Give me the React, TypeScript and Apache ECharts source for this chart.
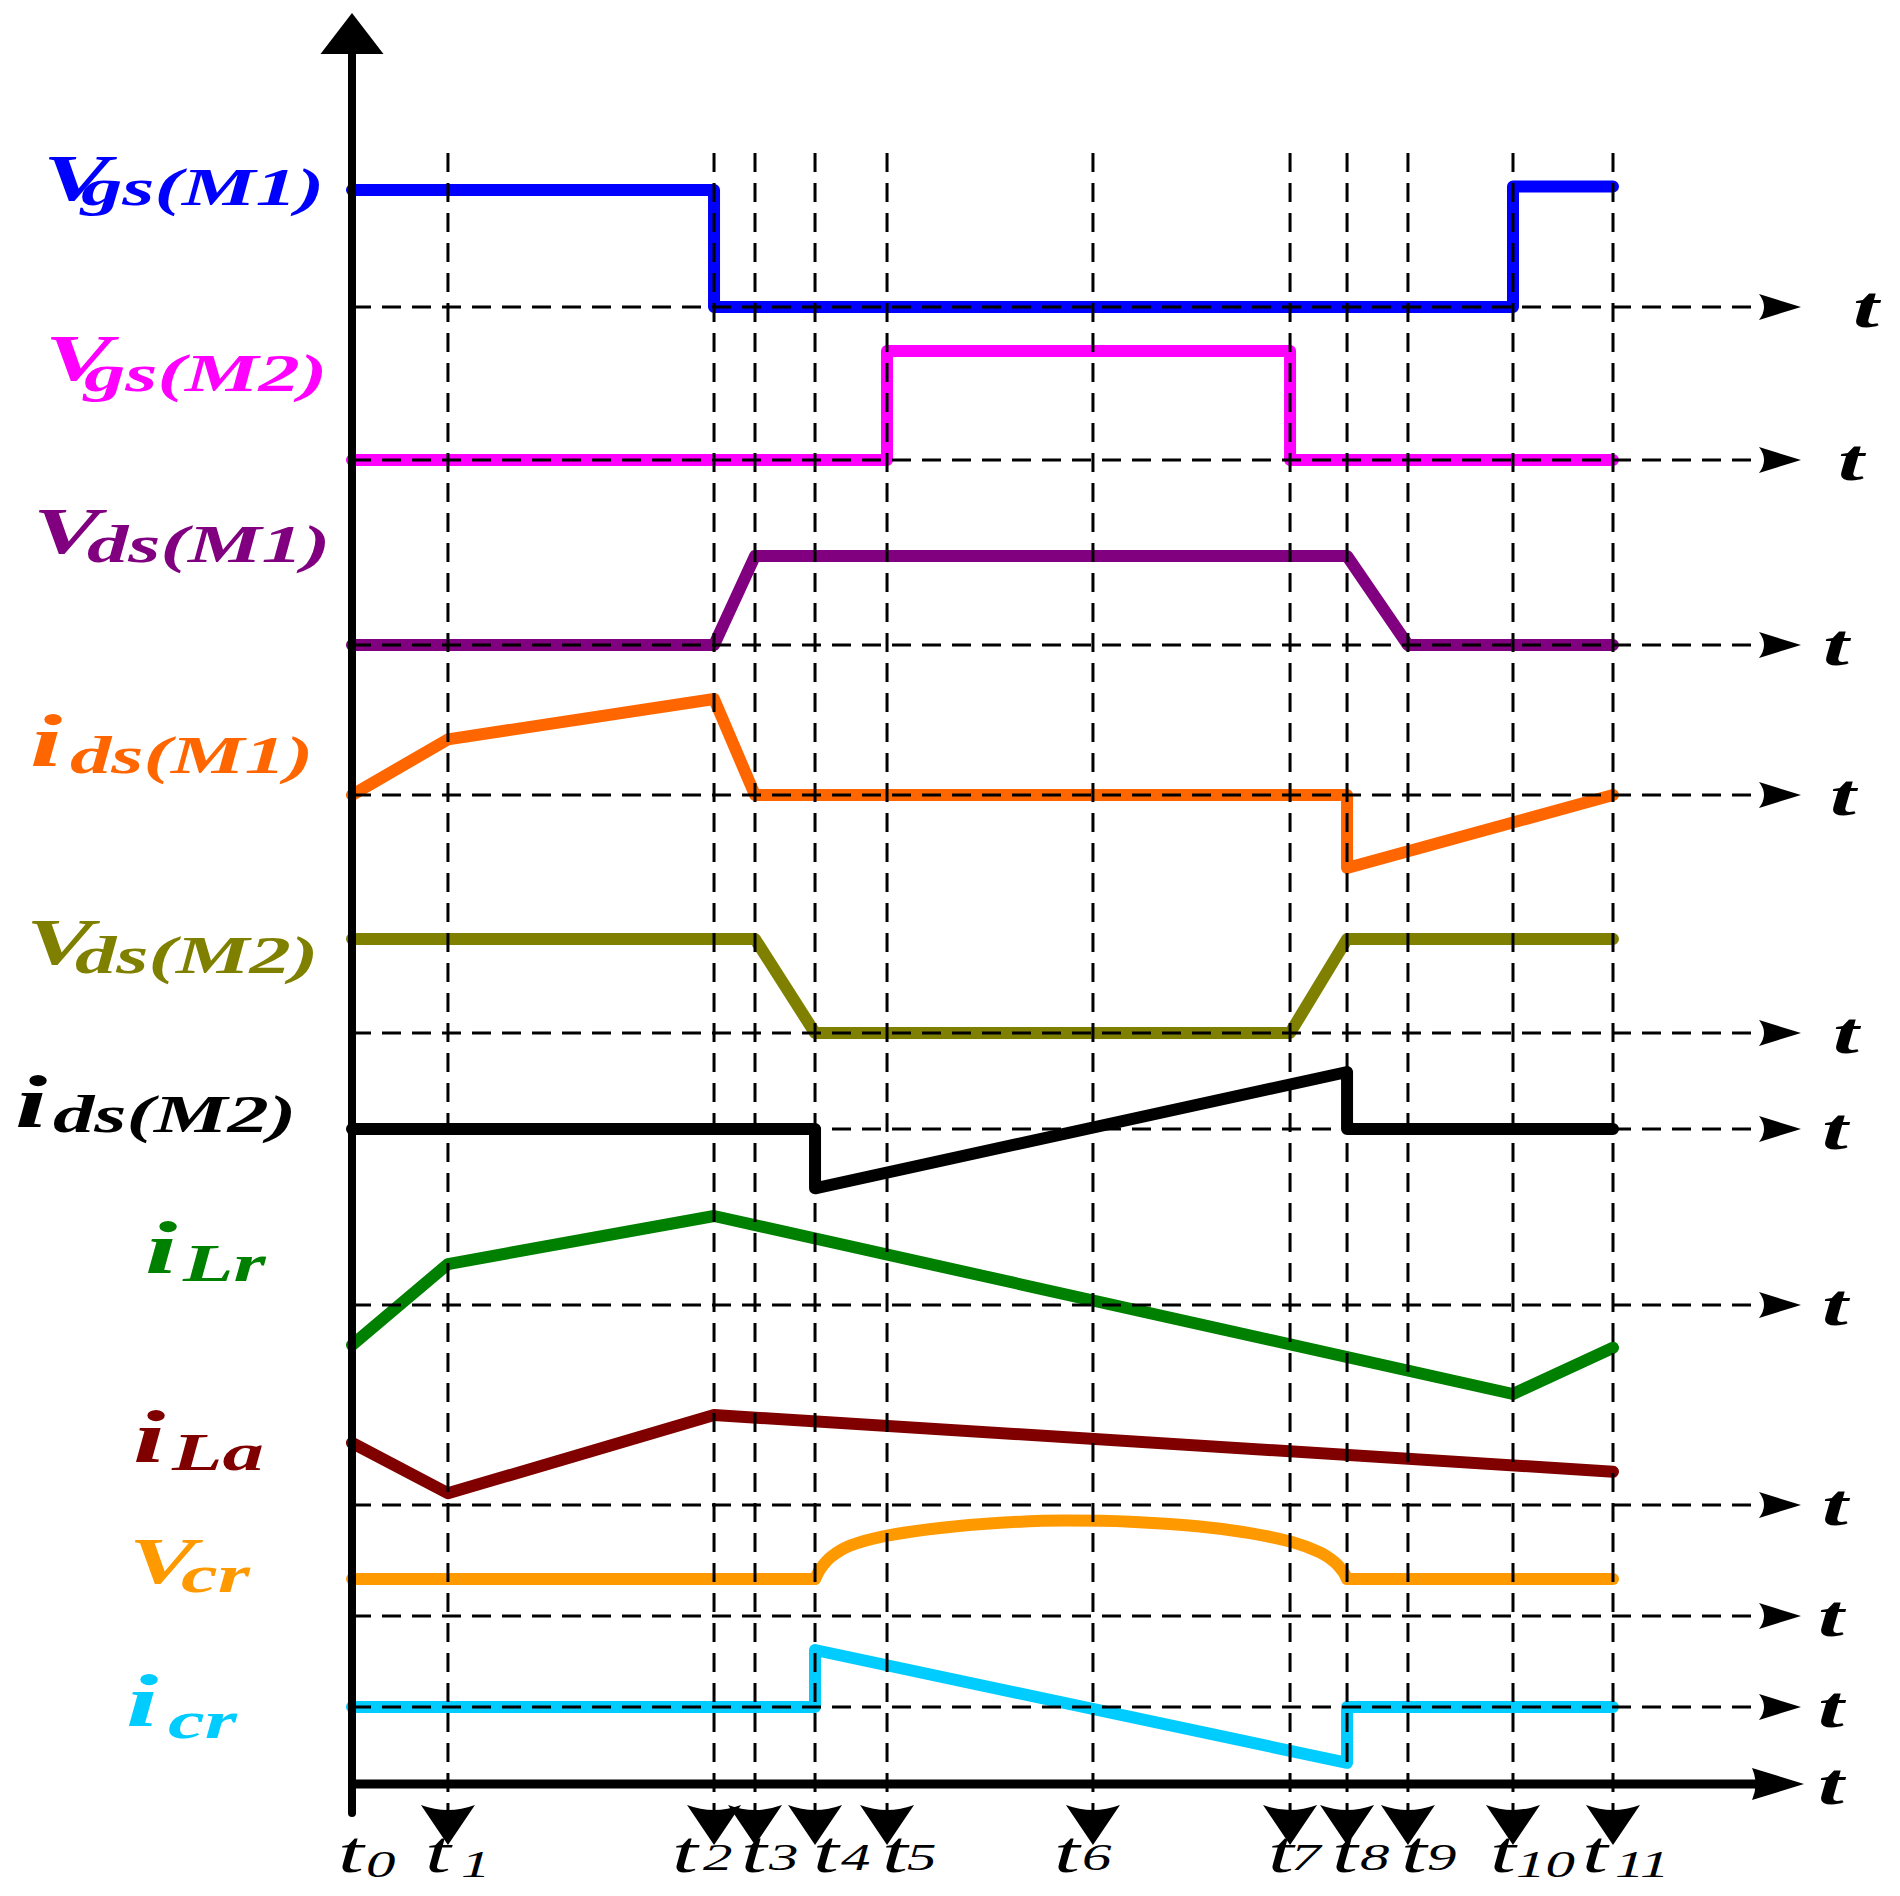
import React, { useEffect, useRef } from "react";
import * as echarts from "echarts";

// ---------- DATA ----------
// switching instants t0..t11 (arbitrary time units, t11 = 100)
const T = [0, 7.61, 28.71, 31.96, 36.72, 42.43, 58.76, 74.39, 78.91, 83.74, 92.07, 100];
const tickSubs = ["0", "1", "2", "3", "4", "5", "6", "7", "8", "9", "10", "11"];

// waveforms: [time, normalized value relative to the waveform's own zero line]
const vgsM1 = [[T[0], 1], [T[2], 1], [T[2], 0], [T[10], 0], [T[10], 1.03], [T[11], 1.03]];
const vgsM2 = [[T[0], 0], [T[5], 0], [T[5], 1], [T[7], 1], [T[7], 0], [T[11], 0]];
const vdsM1 = [[T[0], 0], [T[2], 0], [T[3], 1], [T[8], 1], [T[9], 0], [T[11], 0]];
const idsM1 = [[T[0], 0], [T[1], 0.58], [T[2], 1], [T[3], 0], [T[8], 0], [T[8], -0.76], [T[11], 0]];
const vdsM2 = [[T[0], 1], [T[3], 1], [T[4], 0], [T[7], 0], [T[8], 1], [T[11], 1]];
const idsM2 = [[T[0], 0], [T[4], 0], [T[4], -1.04], [T[8], 1], [T[8], 0], [T[11], 0]];
const iLr = [[T[0], -0.45], [T[1], 0.46], [T[2], 1], [T[10], -1], [T[11], -0.48]];
const iLa = [[T[0], 0.69], [T[1], 0.13], [T[2], 1], [T[11], 0.37]];
const vcrFlatA = [[T[0], 1], [T[4], 1]];
const vcrArcT = [T[4], 37.2, 38.0, 39.5, T[5], 46.63, 51.4, 56.6, 61.7, 67.25, 71.21, 74.54, 76.76, 77.95, 78.6, T[8]];
const vcrArcV = [1, 1.3, 1.6, 1.9, 2.17, 2.38, 2.52, 2.58, 2.55, 2.42, 2.24, 2.0, 1.72, 1.45, 1.2, 1];
const vcrFlatB = [[T[8], 1], [T[11], 1]];
const icr = [[T[0], 0], [T[4], 0], [T[4], 1], [T[8], -0.98], [T[8], 0], [T[11], 0]];

// waveform names: main symbol + subscript
const labelMain = ["V", "V", "V", "i", "V", "i", "i", "i", "V", "i"];
const labelSub = ["gs(M1)", "gs(M2)", "ds(M1)", "ds(M1)", "ds(M2)", "ds(M2)", "Lr", "La", "cr", "cr"];

// ---------- LAYOUT / STYLE ----------
const W = 1900;
const H = 1896;
const X_MIN = -27.914;
const X_MAX = 122.76;
const FONT = "'Liberation Serif', 'Times New Roman', serif";
const STRETCH = 1.55;
const SUB_STRETCH = 1.59;
const LINE_W = 12;

const rows = [
  { series: [vgsM1], base: 307, unit: 117, color: "#0000FF", tx: 1853, lab: [43, 200, 81, 205] },
  { series: [vgsM2], base: 460, unit: 109, color: "#FF00FF", tx: 1838, lab: [45, 380, 84, 391] },
  { series: [vdsM1], base: 645, unit: 89, color: "#800080", tx: 1823, lab: [33, 553, 87, 562] },
  { series: [idsM1], base: 795, unit: 96, color: "#FF6600", tx: 1830, lab: [30, 766, 70, 773] },
  { series: [vdsM2], base: 1033, unit: 94, color: "#808000", tx: 1833, lab: [26, 964, 75, 973] },
  { series: [idsM2], base: 1129, unit: 57, color: "#000000", tx: 1822, lab: [15, 1127, 53, 1132] },
  { series: [iLr], base: 1305, unit: 89, color: "#008000", tx: 1822, lab: [145, 1273, 183, 1281] },
  { series: [iLa], base: 1505, unit: 90, color: "#800000", tx: 1822, lab: [133, 1462, 172, 1470] },
  { series: [vcrFlatA, vcrFlatB], base: 1616, unit: 37, color: "#FF9900", tx: 1818, lab: [129, 1583, 181, 1592] },
  { series: [icr], base: 1707, unit: 57, color: "#00CCFF", tx: 1818, lab: [126, 1726, 168, 1738] },
];

const AXIS_Y = 1784;
const AXIS_T_X = 1818;
const DASH_END_T = 111.66;
const ROW_ARROW_T = 114.91;
const AXIS_ARROW_T = 115.15;
const VLINE_TOP = 153;
const VLINE_BOTTOM = 1830;
const DOWN_ARROW_TIP = 1845;
const tickLabelDx = [-14, -23, -42, -14, -2, -5, -39, -22, -15, -7, -23, -31];
const tickDigitGap = [28, 36, 31, 28, 28, 25, 28, 23, 28, 26, 26, 33];

const ARROW_RIGHT = "path://M0,0 L42,13 L0,26 Q10,13 0,0 Z";
const ARROW_AXIS = "path://M0,0 L52,16 L0,32 Q7,16 0,0 Z";
const ARROW_DOWN = "path://M0,0 Q27,10 54,0 L27,40 Z";
const ARROW_UP = "path://M31.5,0 L63,41 L0,41 Z";

const dashed = { color: "#000", width: 3, type: [19, 11] as number[] };
const black = { color: "#000", opacity: 1 };

function buildOption() {
  const series: any[] = [];
  // waveforms
  rows.forEach((r) => {
    r.series.forEach((d) => {
      series.push({
        type: "line",
        data: d.map(([t, v]) => [t, r.base - v * r.unit]),
        symbol: "none",
        silent: true,
        z: 2,
        lineStyle: { color: r.color, width: LINE_W, cap: "round", join: "round" },
      });
    });
  });
  const vcrRow = rows[8];
  series.push({
    type: "line",
    data: vcrArcT.map((t, i) => [t, vcrRow.base - vcrArcV[i] * vcrRow.unit]),
    symbol: "none",
    smooth: 0.3,
    silent: true,
    z: 2,
    lineStyle: { color: vcrRow.color, width: LINE_W, cap: "round", join: "round" },
  });
  // dashed zero lines with arrow heads
  rows.forEach((r) => {
    series.push({
      type: "line",
      data: [[0, r.base], [DASH_END_T, r.base]],
      symbol: "none",
      silent: true,
      z: 5,
      lineStyle: dashed,
    });
  });
  series.push({
    type: "scatter",
    data: rows.map((r) => [ROW_ARROW_T, r.base]),
    symbol: ARROW_RIGHT,
    symbolSize: [42, 26],
    symbolOffset: [-21, 0],
    silent: true,
    z: 6,
    itemStyle: black,
  });
  // vertical dashed time markers with arrow heads
  T.slice(1).forEach((t) => {
    series.push({
      type: "line",
      data: [[t, VLINE_TOP], [t, VLINE_BOTTOM]],
      symbol: "none",
      silent: true,
      z: 5,
      lineStyle: dashed,
    });
  });
  series.push({
    type: "scatter",
    data: T.slice(1).map((t) => [t, DOWN_ARROW_TIP]),
    symbol: ARROW_DOWN,
    symbolSize: [54, 40],
    symbolOffset: [0, -20],
    silent: true,
    z: 6,
    itemStyle: black,
  });
  // main axes
  series.push({
    type: "line",
    data: [[0, 45], [0, 1813]],
    symbol: "none",
    silent: true,
    z: 7,
    lineStyle: { color: "#000", width: 8, cap: "round" },
  });
  series.push({
    type: "line",
    data: [[-0.3, AXIS_Y], [111.4, AXIS_Y]],
    symbol: "none",
    silent: true,
    z: 7,
    lineStyle: { color: "#000", width: 9 },
  });
  series.push({
    type: "scatter",
    data: [[0, 13]],
    symbol: ARROW_UP,
    symbolSize: [63, 41],
    symbolOffset: [0, 20.5],
    silent: true,
    z: 7,
    itemStyle: black,
  });
  series.push({
    type: "scatter",
    data: [[AXIS_ARROW_T, AXIS_Y]],
    symbol: ARROW_AXIS,
    symbolSize: [52, 32],
    symbolOffset: [-26, 0],
    silent: true,
    z: 7,
    itemStyle: black,
  });

  return {
    animation: false,
    backgroundColor: "#ffffff",
    grid: { left: 0, top: 0, width: W, height: H, containLabel: false },
    xAxis: { type: "value", min: X_MIN, max: X_MAX, show: false },
    yAxis: { type: "value", min: 0, max: H, inverse: true, show: false },
    series,
  };
}

function txt(x: number, baseline: number, text: string, size: number, color: string, bold: boolean, sx = STRETCH) {
  return {
    type: "text",
    x,
    y: baseline - 0.3375 * size,
    scaleX: sx,
    z: 20,
    silent: true,
    style: {
      text,
      fontFamily: FONT,
      fontSize: size,
      fontWeight: bold ? "bold" : "normal",
      fontStyle: "italic",
      fill: color,
      align: "left",
      verticalAlign: "middle",
    },
  };
}

function buildGraphics(px: (t: number, y: number) => number[]) {
  const els: any[] = [];
  rows.forEach((r, i) => {
    const [mx, mb, sx, sb] = r.lab;
    const main = labelMain[i];
    els.push(txt(mx, mb, main, main === "i" ? 75 : 65, r.color, true));
    els.push(txt(sx, sb, labelSub[i], 52, r.color, true, SUB_STRETCH));
    const p = px(ROW_ARROW_T, r.base);
    els.push(txt(r.tx, p[1] + 20, "t", 60, "#000", true));
  });
  const pa = px(AXIS_ARROW_T, AXIS_Y);
  els.push(txt(AXIS_T_X, pa[1] + 20, "t", 60, "#000", true));
  T.forEach((t, i) => {
    const p = px(t, AXIS_Y);
    const tx = p[0] + tickLabelDx[i];
    els.push(txt(tx, 1872, "t", 60, "#000", false));
    const low = ["0", "1", "10", "11"].includes(tickSubs[i]);
    els.push(txt(tx + tickDigitGap[i], low ? 1877 : 1870, tickSubs[i], 38, "#000", false));
  });
  return els;
}

export default function App() {
  const ref = useRef<HTMLDivElement>(null);
  useEffect(() => {
    document.body.style.margin = "0";
    const el = ref.current;
    if (!el) return;
    const chart = echarts.init(el, null, { renderer: "svg" });
    chart.setOption(buildOption() as any);
    const px = (t: number, y: number) =>
      chart.convertToPixel({ gridIndex: 0 } as any, [t, y]) as unknown as number[];
    chart.setOption({ graphic: { elements: buildGraphics(px) } } as any);
    return () => chart.dispose();
  }, []);
  return <div ref={ref} style={{ width: W, height: H, background: "#fff" }} />;
}
